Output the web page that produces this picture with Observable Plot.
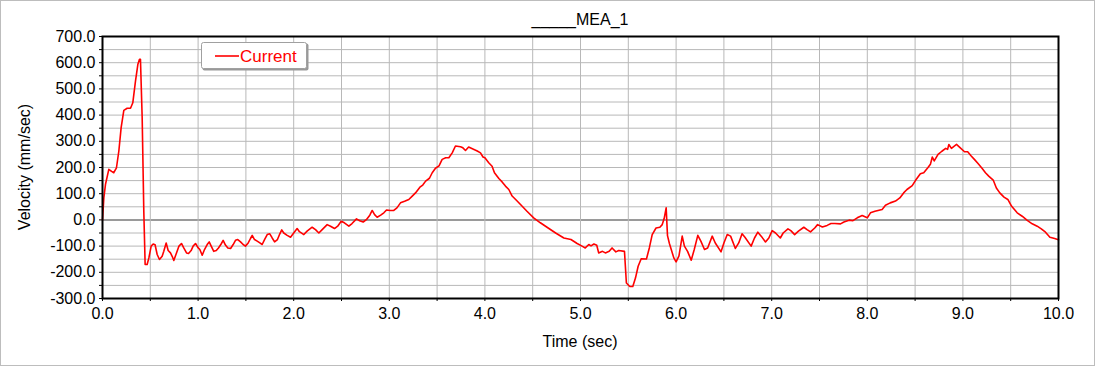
<!DOCTYPE html>
<html>
<head>
<meta charset="utf-8">
<script src="https://cdn.jsdelivr.net/npm/d3@7"></script>
<script src="https://cdn.jsdelivr.net/npm/@observablehq/plot@0.6"></script>
<style>
  html, body { margin: 0; padding: 0; background: #fff; }
</style>
</head>
<body>
<div id="chart"></div>
<script>
const chartTitle = "_____MEA_1";
const xLabel = "Time (sec)";
const yLabel = "Velocity (mm/sec)";
const seriesName = "Current";

const time = [0,0.014,0.031,0.066,0.095,0.118,0.146,0.171,0.195,0.223,0.258,0.293,0.317,0.345,0.37,0.387,0.397,0.415,0.432,0.446,0.467,0.485,0.509,0.53,0.55,0.572,0.596,0.624,0.641,0.666,0.687,0.711,0.73,0.746,0.774,0.8,0.826,0.85,0.879,0.9,0.927,0.948,0.973,0.997,1.018,1.043,1.067,1.095,1.116,1.137,1.164,1.19,1.213,1.241,1.262,1.286,1.311,1.34,1.367,1.391,1.415,1.444,1.471,1.495,1.524,1.548,1.566,1.59,1.618,1.646,1.67,1.695,1.723,1.75,1.775,1.8,1.83,1.855,1.875,1.896,1.932,1.967,1.994,2.036,2.06,2.106,2.14,2.193,2.228,2.263,2.298,2.35,2.385,2.427,2.46,2.497,2.53,2.577,2.61,2.657,2.69,2.727,2.76,2.796,2.821,2.846,2.873,2.91,2.943,2.971,3.01,3.047,3.08,3.117,3.16,3.204,3.24,3.274,3.32,3.35,3.38,3.42,3.449,3.483,3.52,3.553,3.59,3.623,3.658,3.692,3.745,3.77,3.797,3.83,3.88,3.92,3.954,3.98,4.0,4.04,4.075,4.1,4.146,4.18,4.215,4.25,4.285,4.337,4.39,4.44,4.51,4.58,4.65,4.74,4.826,4.9,4.965,5.016,5.05,5.087,5.11,5.14,5.17,5.19,5.23,5.26,5.3,5.33,5.37,5.4,5.46,5.48,5.516,5.547,5.575,5.603,5.635,5.69,5.72,5.75,5.79,5.83,5.855,5.875,5.896,5.91,5.93,5.976,6.0,6.03,6.064,6.087,6.12,6.158,6.19,6.227,6.26,6.297,6.33,6.378,6.41,6.47,6.5,6.535,6.57,6.62,6.655,6.69,6.72,6.785,6.82,6.855,6.89,6.935,6.97,7.005,7.04,7.09,7.12,7.17,7.2,7.24,7.28,7.336,7.37,7.406,7.45,7.48,7.53,7.58,7.62,7.66,7.72,7.755,7.81,7.85,7.895,7.946,8.0,8.033,8.08,8.155,8.19,8.24,8.295,8.34,8.38,8.415,8.47,8.505,8.555,8.59,8.633,8.66,8.68,8.7,8.74,8.78,8.82,8.84,8.853,8.88,8.9,8.933,8.97,9.017,9.05,9.087,9.12,9.156,9.2,9.236,9.27,9.317,9.35,9.386,9.43,9.47,9.51,9.568,9.62,9.673,9.725,9.777,9.82,9.864,9.91,9.96,10.0];

const velocity = [0,84,135,193,185,180,199,263,352,418,426,426,447,530,594,613,613,390,33,-170,-170,-145,-100,-92,-95,-132,-151,-139,-120,-88,-117,-126,-140,-155,-126,-100,-90,-107,-126,-128,-117,-100,-90,-105,-113,-135,-113,-94,-84,-100,-120,-117,-107,-92,-78,-96,-107,-109,-94,-78,-75,-84,-94,-100,-88,-71,-59,-75,-81,-88,-94,-75,-56,-53,-69,-84,-75,-53,-38,-50,-59,-66,-53,-33,-45,-56,-43,-28,-37,-50,-37,-18,-24,-33,-24,-5,-11,-24,-14,4,-3,-8,1,18,36,20,10,18,27,38,36,36,46,65,71,78,91,103,125,133,148,159,180,197,206,231,237,237,256,282,279,275,265,278,270,263,256,240,237,218,205,180,158,145,129,116,91,72,52,33,8,-11,-28,-50,-69,-75,-90,-100,-107,-94,-99,-92,-97,-126,-120,-126,-120,-107,-122,-117,-120,-241,-254,-254,-222,-177,-148,-149,-107,-56,-31,-28,-18,5,46,-60,-90,-145,-160,-137,-62,-100,-120,-154,-113,-59,-82,-113,-107,-62,-88,-122,-88,-56,-62,-109,-88,-53,-66,-100,-69,-47,-62,-84,-69,-41,-50,-69,-50,-34,-41,-56,-43,-28,-37,-46,-31,-18,-27,-21,-14,-14,-15,-8,-1,-3,8,17,8,27,33,40,56,65,72,84,103,116,131,151,176,180,199,212,240,225,250,262,273,269,288,273,279,288,276,260,260,244,231,216,197,180,167,152,122,103,87,78,52,27,14,-2,-15,-24,-34,-47,-66,-71,-76];

const xTicks = d3.range(0, 10.001, 0.5);     // 0.0 .. 10.0, labels on whole seconds
const yTicks = d3.range(-300, 701, 50);      // -300 .. 700, labels every 100

const data = time.map((t, i) => ({t, v: velocity[i]}));

const W = 1104, H = 370;
const mL = 102, mR = 46, mT = 36, mB = 72;

const plot = Plot.plot({
  width: W,
  height: H,
  marginLeft: mL,
  marginRight: mR,
  marginTop: mT,
  marginBottom: mB,
  style: {fontFamily: "'Liberation Sans', Arial, sans-serif", fontSize: "16px", color: "black", background: "white"},
  x: {domain: [0, 10]},
  y: {domain: [-300, 700]},
  marks: [
    Plot.ruleY(yTicks.filter(d => d > -300 && d < 700), {stroke: d => d === 0 ? "#9a9a9a" : "#b8b8b8", strokeWidth: d => d === 0 ? 2 : 1}),
    Plot.ruleX(xTicks.filter(d => d > 0 && d < 10), {stroke: "#b8b8b8", strokeWidth: 1}),
    Plot.axisY({ticks: yTicks, tickFormat: d => (d % 100 === 0 ? d.toFixed(1) : ""), tickSize: 3, tickPadding: 4, label: null, fill: "black", stroke: "black"}),
    Plot.axisX({ticks: xTicks, tickFormat: d => (Number.isInteger(d) ? d.toFixed(1) : ""), tickSize: 3, tickPadding: 6, label: null, fill: "black", stroke: "black"}),
    Plot.line(data, {x: "t", y: "v", stroke: "red", strokeWidth: 1.6}),
    Plot.frame({stroke: "black", strokeWidth: 2})
  ]
});

const svg = d3.select(plot);
// outer grey border
svg.insert("rect", ":first-child")
  .attr("x", 0.5).attr("y", 0.5).attr("width", 1094).attr("height", 365)
  .attr("fill", "white").attr("stroke", "#bdbdbd");

const cx = mL + (W - mL - mR) / 2;
svg.append("text").attr("x", cx).attr("y", 25).attr("text-anchor", "middle")
  .attr("font-size", 16).attr("fill", "black").text(chartTitle);
svg.append("text").attr("x", cx).attr("y", 347).attr("text-anchor", "middle")
  .attr("font-size", 16).attr("fill", "black").text(xLabel);
svg.append("text").attr("transform", `translate(30,${mT + (H - mT - mB) / 2}) rotate(-90)`)
  .attr("text-anchor", "middle").attr("font-size", 16).attr("fill", "black").text(yLabel);

// legend
const lg = svg.append("g");
lg.append("rect").attr("x", 202.5).attr("y", 43.5).attr("width", 106).attr("height", 27).attr("rx", 2)
  .attr("fill", "#999");
lg.append("rect").attr("x", 201.5).attr("y", 42.5).attr("width", 105).attr("height", 26).attr("rx", 2)
  .attr("fill", "white").attr("stroke", "#a0a0a0");
lg.append("line").attr("x1", 215).attr("x2", 239).attr("y1", 56).attr("y2", 56)
  .attr("stroke", "red").attr("stroke-width", 1.6);
lg.append("text").attr("x", 240).attr("y", 62).attr("text-anchor", "start")
  .attr("font-size", 17).attr("fill", "red").text(seriesName);

document.getElementById("chart").appendChild(plot);
</script>
</body>
</html>
